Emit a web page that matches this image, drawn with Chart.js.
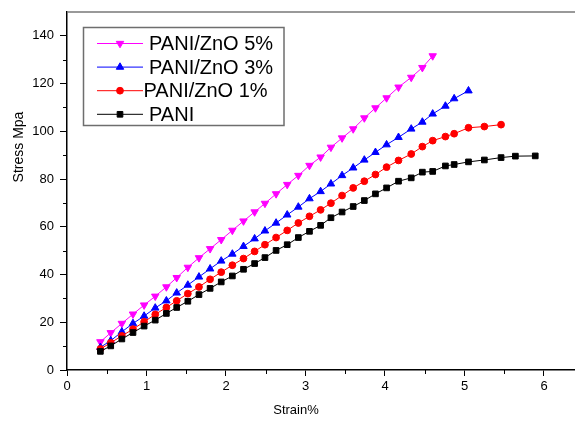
<!DOCTYPE html>
<html>
<head>
<meta charset="utf-8">
<script src="https://cdn.jsdelivr.net/npm/chart.js@4.4.1/dist/chart.umd.min.js"></script>
<style>
  body { margin: 0; background: #fff; }
  #wrap { width: 575px; height: 423px; }
</style>
</head>
<body>
<div id="wrap"><canvas id="stress"></canvas></div>
<script>
// values
const strain = [0.42, 0.55, 0.69, 0.83, 0.97, 1.11, 1.25, 1.38, 1.52, 1.66,
  1.80, 1.94, 2.08, 2.22, 2.36, 2.49, 2.63, 2.77, 2.91, 3.05,
  3.19, 3.32, 3.46, 3.60, 3.74, 3.88, 4.02, 4.17, 4.33, 4.47,
  4.60, 4.76, 4.87, 5.05, 5.25, 5.46, 5.64, 5.89];

const pani = [7.8, 10.1, 13.0, 15.7, 18.4, 20.9, 23.7, 26.2, 28.8, 31.6,
  34.2, 36.9, 39.4, 42.2, 44.6, 47.1, 50.1, 52.5, 55.5, 58.1,
  60.6, 63.8, 66.2, 68.5, 71.0, 73.8, 76.3, 79.1, 80.5, 82.9,
  83.2, 85.5, 86.1, 87.2, 88.0, 89.0, 89.6, 89.7];

const zno1 = [8.8, 11.4, 14.3, 17.1, 20.2, 23.3, 26.2, 29.0, 32.0, 34.8,
  38.0, 41.0, 43.9, 46.7, 49.7, 52.5, 55.5, 58.5, 61.6, 64.4,
  67.1, 69.9, 73.1, 76.3, 79.1, 81.9, 85.0, 87.8, 90.5, 93.6,
  96.1, 97.8, 99.0, 101.5, 102.0, 102.8];

const zno3 = [9.5, 12.3, 16.0, 19.5, 22.6, 26.0, 29.0, 32.3, 35.6, 39.0,
  42.4, 45.7, 48.6, 51.8, 55.0, 58.3, 61.6, 65.0, 68.3, 71.8,
  74.8, 78.0, 81.5, 84.7, 88.0, 91.2, 94.4, 97.5, 101.0, 103.9,
  107.3, 110.6, 113.7, 117.0];

const zno5 = [11.8, 15.6, 19.5, 23.4, 27.2, 30.9, 34.8, 38.7, 43.0, 47.0,
  50.8, 54.6, 58.5, 62.4, 66.2, 69.8, 73.8, 77.7, 81.5, 85.7,
  89.2, 93.3, 97.2, 101.0, 105.6, 109.8, 114.0, 118.5, 122.6, 126.7,
  131.6];

const xTicks = [0, 1, 2, 3, 4, 5, 6];
const yTicks = [0, 20, 40, 60, 80, 100, 120, 140];
const xMinor = [0.5, 1.5, 2.5, 3.5, 4.5, 5.5];
const yMinor = [10, 30, 50, 70, 90, 110, 130];

const xTitle = "Strain%";
const yTitle = "Stress Mpa";

const FONT = "'Liberation Sans', Arial, sans-serif";

const pairs = (ys) => ys.map((y, i) => ({ x: strain[i], y: y }));

function series(label, ys, colour, style, radius, rotation) {
  return {
    label: label,
    data: pairs(ys),
    borderColor: colour,
    backgroundColor: colour,
    borderWidth: 1,
    pointStyle: style,
    pointRadius: radius,
    pointRotation: rotation || 0,
    pointBorderWidth: 1,
    pointBorderColor: colour,
    pointBackgroundColor: colour,
    tension: 0
  };
}

// box legend with line + marker samples, like the Origin plot
const boxLegend = {
  id: "boxLegend",
  afterDraw(chart) {
    const { ctx, chartArea } = chart;
    const left = chartArea.left + 16.5;
    const top = chartArea.top + 15.5;
    ctx.save();
    ctx.strokeStyle = "#6e6e6e";
    ctx.lineWidth = 1.5;
    ctx.strokeRect(left, top, 200.5, 98);

    const rows = [3, 2, 1, 0];
    rows.forEach((idx, k) => {
      const ds = chart.data.datasets[idx];
      const y = top + 16 + k * 23.6;
      ctx.strokeStyle = ds.borderColor;
      ctx.lineWidth = 1;
      ctx.beginPath();
      ctx.moveTo(left + 13.5, y);
      ctx.lineTo(left + 59.5, y);
      ctx.stroke();
      ctx.fillStyle = ds.backgroundColor;
      Chart.helpers.drawPoint(ctx, {
        pointStyle: ds.pointStyle,
        radius: ds.pointRadius,
        rotation: ds.pointRotation,
        borderWidth: 1
      }, left + 36.5, y);

      ctx.fillStyle = "#000";
      ctx.font = "20px " + FONT;
      ctx.textBaseline = "middle";
      ctx.textAlign = "left";
      const tx = idx === 1 ? left + 60 : left + 65.5;
      ctx.fillText(ds.label, tx, y + 1);
    });
    ctx.restore();
  }
};

// minor ticks, top frame line and the axis titles
const frame = {
  id: "frame",
  afterDraw(chart) {
    const { ctx, chartArea, scales } = chart;
    ctx.save();
    ctx.strokeStyle = "#000";
    ctx.lineWidth = 1;
    ctx.beginPath();
    xMinor.forEach(v => {
      const px = Math.round(scales.x.getPixelForValue(v)) + 0.5;
      ctx.moveTo(px, chartArea.bottom);
      ctx.lineTo(px, chartArea.bottom + 4);
    });
    yMinor.forEach(v => {
      const py = Math.round(scales.y.getPixelForValue(v)) + 0.5;
      ctx.moveTo(chartArea.left, py);
      ctx.lineTo(chartArea.left - 4, py);
    });
    ctx.stroke();

    ctx.strokeStyle = "#777";
    ctx.lineWidth = 1.5;
    ctx.beginPath();
    ctx.moveTo(chartArea.left, chartArea.top);
    ctx.lineTo(chartArea.right, chartArea.top);
    ctx.stroke();

    ctx.fillStyle = "#000";
    ctx.font = "13px " + FONT;
    ctx.textAlign = "center";
    ctx.textBaseline = "middle";
    ctx.fillText(xTitle, 296, 410);

    ctx.translate(19, 147);
    ctx.rotate(-Math.PI / 2);
    ctx.font = "14px " + FONT;
    ctx.fillText(yTitle, 0, 0);
    ctx.restore();
  }
};

new Chart(document.getElementById("stress"), {
  type: "line",
  data: {
    datasets: [
      series("PANI", pani, "#000000", "rect", 4),
      series("PANI/ZnO 1%", zno1, "#ff0000", "circle", 3.4),
      series("PANI/ZnO 3%", zno3, "#0000ff", "triangle", 4.3),
      series("PANI/ZnO 5%", zno5, "#ff00ff", "triangle", 4.3, 180)
    ]
  },
  options: {
    responsive: true,
    maintainAspectRatio: false,
    animation: false,
    layout: { autoPadding: false, padding: { top: 12, left: 0, right: 0, bottom: 0 } },
    plugins: {
      legend: { display: false },
      tooltip: { enabled: false }
    },
    scales: {
      x: {
        type: "linear",
        min: 0,
        max: 6.39,
        afterBuildTicks: (s) => { s.ticks = xTicks.map(v => ({ value: v })); },
        afterFit: (s) => { s.height = 53; s.paddingRight = 0; s.paddingLeft = 0; },
        ticks: { color: "#000", font: { size: 13, family: FONT }, padding: 3, maxRotation: 0 },
        grid: { drawOnChartArea: false, tickLength: 6, color: "#000", lineWidth: 1 },
        border: { color: "#000", width: 1.5 }
      },
      y: {
        min: 0,
        max: 150,
        afterBuildTicks: (s) => { s.ticks = yTicks.map(v => ({ value: v })); },
        afterFit: (s) => { s.width = 67; s.paddingTop = 0; s.paddingBottom = 0; },
        ticks: { color: "#000", font: { size: 13, family: FONT }, padding: 6 },
        grid: { drawOnChartArea: false, tickLength: 7, color: "#000", lineWidth: 1 },
        border: { color: "#000", width: 1.5 }
      }
    }
  },
  plugins: [boxLegend, frame]
});
</script>
</body>
</html>
